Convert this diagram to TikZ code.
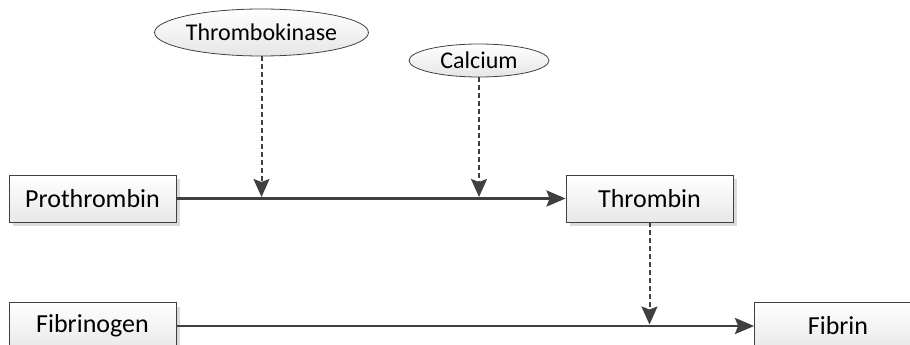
\documentclass[tikz,border=0pt]{standalone}
\usepackage{fontspec}
\setmainfont{Carlito}
\usetikzlibrary{shapes.geometric,arrows.meta,shadows}
\definecolor{linegray}{HTML}{404040}
\tikzset{
	stoff/.style={draw=linegray, line width=0.9pt, top color=white, bottom color=black!9,
		minimum width=167pt, minimum height=47pt, inner sep=0pt, font=\fontsize{26}{30}\selectfont,
		drop shadow={shadow xshift=4pt, shadow yshift=-4pt, fill=black!14, opacity=1}},
	faktor/.style={ellipse, draw=linegray, line width=0.8pt, top color=white, bottom color=black!10,
		inner sep=0pt, font=\fontsize{24}{28}\selectfont},
	reaktion/.style={line width=2.8pt, color=linegray, -{Stealth[length=19pt,width=16pt,inset=3pt]}},
	wirkung/.style={line width=2pt, color=linegray, dash pattern=on 5pt off 3pt,
		-{Stealth[length=18pt,width=16pt,inset=3pt]}},
}
\begin{document}
\begin{tikzpicture}[x=1pt, y=-1pt]
		%%%%% START %%%%%
		
		\clip (0, 0) rectangle (910, 345);
		
		\node[stoff] (prothrombin) at (92.5, 198.5) {Prothrombin};
		\node[stoff] (thrombin) at (649.5, 198.5) {Thrombin};
		\node[stoff] (fibrinogen) at (92.5, 326) {Fibrinogen};
		\node[stoff] (fibrin) at (838, 326) {Fibrin};
		
		\node[faktor, minimum width=211pt, minimum height=47pt] (thrombokinase) at (261.5, 32.5) {Thrombokinase};
		\node[faktor, minimum width=140pt, minimum height=33pt] (calcium) at (479, 60.5) {Calcium};
		
		\coordinate (tkziel) at (thrombokinase.south |- prothrombin.east);
		\coordinate (caziel) at (calcium.south |- prothrombin.east);
		\coordinate (thziel) at (thrombin.south |- fibrinogen.east);
		
		\draw[reaktion] (prothrombin.east) -- (thrombin.west);
		\draw[reaktion] (fibrinogen.east) -- (fibrin.west);
		
		\draw[wirkung] (thrombokinase.south) -- ([yshift=1.5pt]tkziel);
		\draw[wirkung] (calcium.south) -- ([yshift=1.5pt]caziel);
		\draw[wirkung] (thrombin.south) -- ([yshift=1.5pt]thziel);
		
		%%%%% END %%%%%
\end{tikzpicture}
\end{document}
